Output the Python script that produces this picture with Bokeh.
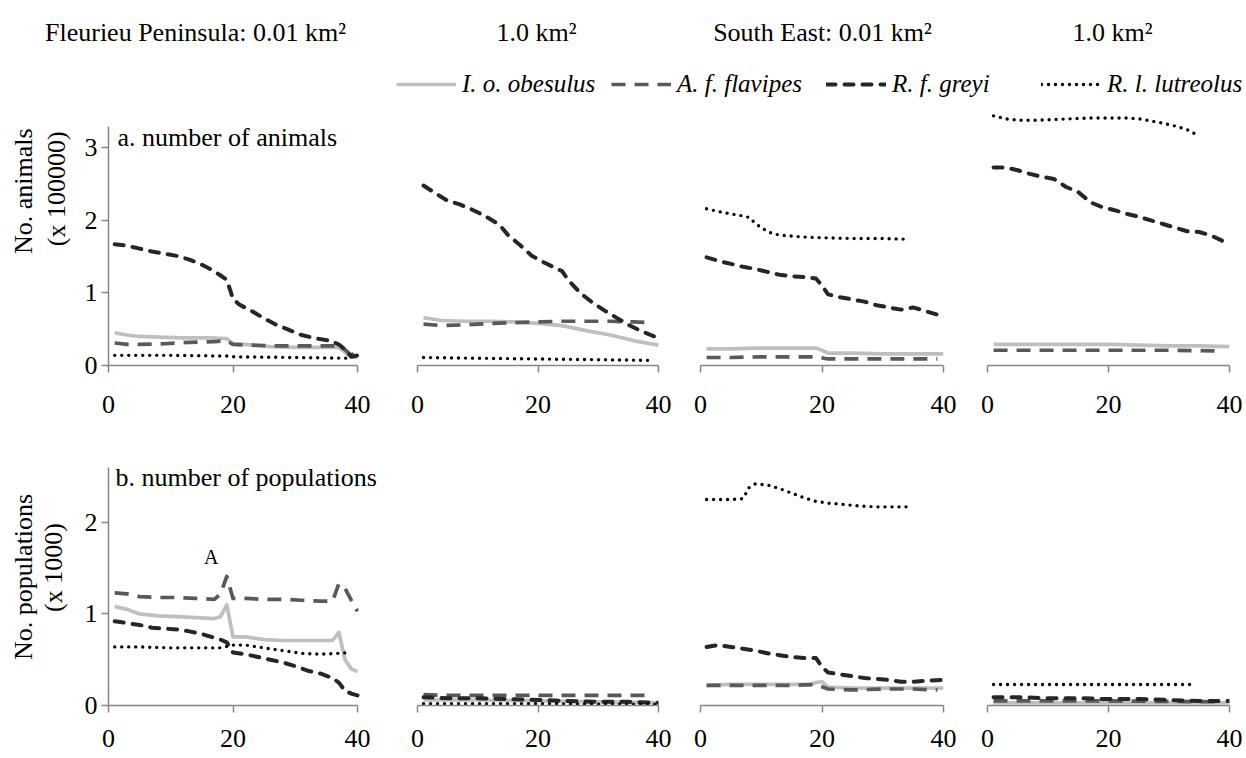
from math import pi

from bokeh.embed import file_html
from bokeh.layouts import column, row
from bokeh.models import FixedTicker, Label, Legend, LegendItem, Range1d
from bokeh.plotting import figure
from bokeh.resources import INLINE

# ---------------------------------------------------------------------------
# Data: years of simulation (x) and model output (y)
# Row a: number of animals (x 100000); row b: number of populations (x 1000)
# ---------------------------------------------------------------------------
SPECIES = ["I. o. obesulus", "A. f. flavipes", "R. f. greyi", "R. l. lutreolus"]
PANEL_TITLES = ["Fleurieu Peninsula: 0.01 km²", "1.0 km²", "South East: 0.01 km²", "1.0 km²"]
X_TICKS = [0, 20, 40]
Y_TICKS_ANIMALS = [0, 1, 2, 3]
Y_TICKS_POPULATIONS = [0, 1, 2]

# Fleurieu Peninsula, 0.01 km2 -- animals
fp_small_animals_obesulus_x = [1, 3, 5, 8, 12, 16, 19, 20, 22, 26, 30, 34, 37, 38, 39, 40]
fp_small_animals_obesulus_y = [0.45, 0.42, 0.40, 0.39, 0.38, 0.38, 0.37, 0.30, 0.29, 0.26, 0.25, 0.25, 0.25, 0.18, 0.12, 0.11]
fp_small_animals_flavipes_x = [1, 3, 5, 9, 13, 17, 19, 20, 23, 27, 31, 35, 37, 38, 39, 40]
fp_small_animals_flavipes_y = [0.31, 0.29, 0.29, 0.30, 0.32, 0.33, 0.34, 0.29, 0.28, 0.27, 0.27, 0.27, 0.27, 0.22, 0.14, 0.21]
fp_small_animals_greyi_x = [1, 3, 5, 7, 9, 11, 13, 15, 17, 18, 19, 20, 21, 23, 25, 27, 29, 31, 33, 35, 36, 37, 38, 39, 40]
fp_small_animals_greyi_y = [1.67, 1.65, 1.61, 1.57, 1.54, 1.51, 1.46, 1.39, 1.30, 1.24, 1.18, 0.92, 0.84, 0.75, 0.65, 0.56, 0.49, 0.42, 0.38, 0.35, 0.33, 0.29, 0.22, 0.12, 0.14]
fp_small_animals_lutreolus_x = [1, 10, 19, 20, 30, 39]
fp_small_animals_lutreolus_y = [0.14, 0.14, 0.13, 0.12, 0.11, 0.10]

# Fleurieu Peninsula, 1.0 km2 -- animals
fp_large_animals_obesulus_x = [1, 4, 8, 12, 16, 20, 24, 28, 32, 36, 40]
fp_large_animals_obesulus_y = [0.66, 0.62, 0.61, 0.61, 0.60, 0.58, 0.55, 0.48, 0.42, 0.34, 0.28]
fp_large_animals_flavipes_x = [1, 4, 8, 12, 16, 20, 24, 28, 32, 36, 39]
fp_large_animals_flavipes_y = [0.57, 0.55, 0.56, 0.58, 0.59, 0.60, 0.61, 0.61, 0.61, 0.60, 0.59]
fp_large_animals_greyi_x = [1, 3, 5, 7, 9, 11, 13, 14, 15, 17, 19, 21, 23, 24, 25, 27, 29, 31, 33, 35, 37, 39, 40]
fp_large_animals_greyi_y = [2.48, 2.37, 2.27, 2.22, 2.15, 2.07, 1.97, 1.90, 1.80, 1.66, 1.51, 1.42, 1.34, 1.30, 1.18, 1.00, 0.87, 0.76, 0.66, 0.56, 0.48, 0.41, 0.38]
fp_large_animals_lutreolus_x = [1, 10, 20, 30, 39]
fp_large_animals_lutreolus_y = [0.11, 0.10, 0.09, 0.08, 0.07]

# South East, 0.01 km2 -- animals
se_small_animals_obesulus_x = [1, 5, 9, 13, 17, 19, 20, 21, 25, 30, 35, 40]
se_small_animals_obesulus_y = [0.23, 0.23, 0.24, 0.24, 0.24, 0.24, 0.21, 0.17, 0.17, 0.16, 0.16, 0.16]
se_small_animals_flavipes_x = [1, 5, 10, 15, 19, 21, 25, 30, 35, 39]
se_small_animals_flavipes_y = [0.11, 0.11, 0.12, 0.12, 0.12, 0.09, 0.09, 0.09, 0.09, 0.09]
se_small_animals_greyi_x = [1, 3, 5, 7, 9, 11, 13, 15, 17, 19, 20, 21, 23, 25, 27, 29, 31, 33, 35, 37, 39, 40]
se_small_animals_greyi_y = [1.49, 1.44, 1.40, 1.36, 1.33, 1.29, 1.25, 1.23, 1.22, 1.20, 1.10, 0.98, 0.94, 0.91, 0.88, 0.83, 0.80, 0.77, 0.80, 0.75, 0.70, 0.67]
se_small_animals_lutreolus_x = [1, 3, 5, 7, 8, 9, 10, 11, 12, 14, 17, 20, 25, 30, 34]
se_small_animals_lutreolus_y = [2.16, 2.12, 2.09, 2.06, 2.04, 1.96, 1.90, 1.85, 1.81, 1.79, 1.77, 1.76, 1.75, 1.75, 1.74]

# South East, 1.0 km2 -- animals
se_large_animals_obesulus_x = [1, 10, 20, 25, 30, 35, 40]
se_large_animals_obesulus_y = [0.29, 0.29, 0.29, 0.28, 0.27, 0.27, 0.26]
se_large_animals_flavipes_x = [1, 10, 20, 30, 39]
se_large_animals_flavipes_y = [0.21, 0.21, 0.21, 0.21, 0.20]
se_large_animals_greyi_x = [1, 3, 5, 7, 9, 11, 13, 15, 17, 19, 21, 23, 25, 27, 29, 31, 33, 35, 37, 39, 40]
se_large_animals_greyi_y = [2.73, 2.73, 2.69, 2.64, 2.60, 2.57, 2.46, 2.39, 2.25, 2.18, 2.14, 2.09, 2.05, 2.00, 1.95, 1.90, 1.85, 1.84, 1.79, 1.71, 1.67]
se_large_animals_lutreolus_x = [1, 3, 5, 8, 11, 14, 17, 20, 23, 25, 27, 29, 31, 33, 35]
se_large_animals_lutreolus_y = [3.44, 3.40, 3.38, 3.38, 3.39, 3.40, 3.41, 3.41, 3.41, 3.40, 3.37, 3.34, 3.30, 3.25, 3.16]

# Fleurieu Peninsula, 0.01 km2 -- populations
fp_small_pops_obesulus_x = [1, 3, 5, 8, 11, 14, 17, 18, 19, 20, 22, 25, 28, 31, 34, 36, 37, 38, 39, 40]
fp_small_pops_obesulus_y = [1.08, 1.05, 1.00, 0.98, 0.97, 0.96, 0.95, 0.97, 1.10, 0.75, 0.75, 0.72, 0.71, 0.71, 0.71, 0.71, 0.80, 0.50, 0.40, 0.37]
fp_small_pops_flavipes_x = [1, 3, 5, 8, 11, 14, 17, 18, 19, 20, 22, 25, 28, 31, 34, 36, 37, 38, 39, 40]
fp_small_pops_flavipes_y = [1.23, 1.22, 1.19, 1.18, 1.18, 1.17, 1.16, 1.22, 1.41, 1.17, 1.17, 1.16, 1.16, 1.15, 1.14, 1.14, 1.33, 1.28, 1.15, 1.03]
fp_small_pops_greyi_x = [1, 3, 5, 7, 9, 11, 13, 15, 17, 18, 19, 20, 22, 24, 26, 28, 30, 32, 34, 36, 37, 38, 39, 40]
fp_small_pops_greyi_y = [0.92, 0.90, 0.88, 0.85, 0.84, 0.83, 0.81, 0.78, 0.74, 0.72, 0.69, 0.58, 0.56, 0.53, 0.50, 0.47, 0.43, 0.38, 0.35, 0.30, 0.25, 0.16, 0.13, 0.11]
fp_small_pops_lutreolus_x = [1, 5, 10, 15, 18, 20, 22, 25, 28, 31, 34, 37, 39]
fp_small_pops_lutreolus_y = [0.64, 0.64, 0.63, 0.63, 0.63, 0.66, 0.66, 0.63, 0.60, 0.57, 0.56, 0.57, 0.58]

# Fleurieu Peninsula, 1.0 km2 -- populations
fp_large_pops_obesulus_x = [1, 10, 20, 30, 40]
fp_large_pops_obesulus_y = [0.06, 0.06, 0.05, 0.04, 0.03]
fp_large_pops_flavipes_x = [1, 5, 10, 20, 30, 39]
fp_large_pops_flavipes_y = [0.12, 0.11, 0.11, 0.11, 0.11, 0.11]
fp_large_pops_greyi_x = [1, 5, 10, 15, 20, 25, 30, 35, 40]
fp_large_pops_greyi_y = [0.09, 0.08, 0.08, 0.07, 0.06, 0.05, 0.04, 0.04, 0.03]
fp_large_pops_lutreolus_x = [1, 20, 40]
fp_large_pops_lutreolus_y = [0.02, 0.02, 0.01]

# South East, 0.01 km2 -- populations
se_small_pops_obesulus_x = [1, 5, 10, 15, 18, 19, 20, 21, 25, 30, 35, 40]
se_small_pops_obesulus_y = [0.22, 0.23, 0.23, 0.23, 0.23, 0.25, 0.26, 0.20, 0.19, 0.19, 0.19, 0.19]
se_small_pops_flavipes_x = [1, 5, 10, 15, 19, 21, 25, 30, 35, 39]
se_small_pops_flavipes_y = [0.22, 0.22, 0.22, 0.22, 0.23, 0.18, 0.17, 0.18, 0.18, 0.17]
se_small_pops_greyi_x = [1, 3, 5, 7, 9, 11, 13, 15, 17, 19, 20, 21, 23, 25, 27, 29, 31, 33, 35, 37, 40]
se_small_pops_greyi_y = [0.64, 0.66, 0.64, 0.62, 0.60, 0.57, 0.55, 0.53, 0.52, 0.52, 0.42, 0.36, 0.34, 0.32, 0.30, 0.29, 0.28, 0.26, 0.26, 0.27, 0.28]
se_small_pops_lutreolus_x = [1, 3, 5, 7, 8, 9, 11, 13, 15, 17, 19, 21, 23, 26, 29, 32, 34]
se_small_pops_lutreolus_y = [2.25, 2.25, 2.25, 2.26, 2.38, 2.42, 2.41, 2.37, 2.32, 2.27, 2.23, 2.21, 2.20, 2.18, 2.17, 2.17, 2.17]

# South East, 1.0 km2 -- populations
se_large_pops_obesulus_x = [1, 20, 40]
se_large_pops_obesulus_y = [0.03, 0.03, 0.03]
se_large_pops_flavipes_x = [1, 20, 39]
se_large_pops_flavipes_y = [0.05, 0.05, 0.04]
se_large_pops_greyi_x = [1, 5, 10, 15, 20, 25, 30, 35, 40]
se_large_pops_greyi_y = [0.09, 0.09, 0.08, 0.08, 0.07, 0.07, 0.06, 0.05, 0.05]
se_large_pops_lutreolus_x = [1, 10, 20, 30, 34]
se_large_pops_lutreolus_y = [0.23, 0.23, 0.23, 0.23, 0.23]

# ---------------------------------------------------------------------------
# Styling
# ---------------------------------------------------------------------------
FONT = "Liberation Serif"
AXIS_GREY = "#868686"
STYLES = [
    dict(line_color="#BFBFBF", line_width=3.7, line_join="round"),
    dict(line_color="#595959", line_width=3.7, line_dash="14 9", line_join="round"),
    dict(line_color="#262626", line_width=4, line_dash="9 9", line_cap="round", line_join="round"),
    dict(line_color="#000000", line_width=3.4, line_dash="0 7", line_cap="round", line_join="round"),
]

YEAR_MAX = 40
LABEL_STRIP_W = 78
# column geometry: (left border, frame width, right border, x range end)
# the first column's frame runs a little past year 40 so its caption has room
COLS = [(30, 279, 0, 279 / 249 * YEAR_MAX), (30, 241, 15, YEAR_MAX),
        (27, 243, 15, YEAR_MAX), (29, 242, 17, YEAR_MAX)]
# row geometry: (top border, frame height, bottom border, y max, axis top, ticks, label standoff)
ROW_ANIMALS = (11, 254, 60, 3.5, 3.3, Y_TICKS_ANIMALS, 23)
ROW_POPS = (42, 238, 53, 2.6, 2.6, Y_TICKS_POPULATIONS, 17)


def style_axis(ax, standoff):
    ax.axis_line_color = AXIS_GREY
    ax.axis_line_width = 1.5
    ax.major_tick_line_color = AXIS_GREY
    ax.major_tick_line_width = 1.5
    ax.major_tick_in = 0
    ax.major_tick_out = 7
    ax.minor_tick_line_color = None
    ax.major_label_standoff = standoff
    ax.major_label_text_font = FONT
    ax.major_label_text_font_size = "26px"
    ax.major_label_text_color = "black"


def make_panel(col, row_geom, series, with_y_axis):
    left, fw, right, x_end = col
    top, fh, bottom, y_max, axis_top, y_ticks, x_standoff = row_geom
    p = figure(width=left + fw + right, height=top + fh + bottom,
               x_range=Range1d(0, x_end), y_range=Range1d(0, y_max),
               y_axis_location="left" if with_y_axis else None,
               output_backend="svg", toolbar_location=None,
               min_border_left=left, min_border_right=right,
               min_border_top=top, min_border_bottom=bottom)
    p.outline_line_color = None
    p.grid.visible = False

    xa = p.xaxis[0]
    xa.ticker = FixedTicker(ticks=X_TICKS)
    xa.bounds = (0, YEAR_MAX)
    style_axis(xa, x_standoff)

    if with_y_axis:
        ya = p.yaxis[0]
        ya.ticker = FixedTicker(ticks=y_ticks)
        ya.bounds = (0, axis_top)
        style_axis(ya, 4)

    for (xs, ys), style in zip(series, STYLES):
        p.line(xs, ys, **style)
    return p


def text_label(p, x, y, text, size="26px", **kw):
    p.add_layout(Label(x=x, y=y, text=text, text_font=FONT, text_font_size=size,
                       text_color="black", **kw))


def make_label_strip(height, lines):
    """Narrow strip left of the first column carrying the two-line y-axis title."""
    s = figure(width=LABEL_STRIP_W, height=height,
               x_range=Range1d(0, LABEL_STRIP_W), y_range=Range1d(height, 0),
               x_axis_type=None, y_axis_type=None, output_backend="svg",
               toolbar_location=None, min_border=0)
    s.outline_line_color = None
    s.grid.visible = False
    for text, cx, cy in lines:
        text_label(s, cx, cy, text, angle=pi / 2, text_align="center", text_baseline="middle")
    return s


animal_series = [
    [(fp_small_animals_obesulus_x, fp_small_animals_obesulus_y), (fp_small_animals_flavipes_x, fp_small_animals_flavipes_y),
     (fp_small_animals_greyi_x, fp_small_animals_greyi_y), (fp_small_animals_lutreolus_x, fp_small_animals_lutreolus_y)],
    [(fp_large_animals_obesulus_x, fp_large_animals_obesulus_y), (fp_large_animals_flavipes_x, fp_large_animals_flavipes_y),
     (fp_large_animals_greyi_x, fp_large_animals_greyi_y), (fp_large_animals_lutreolus_x, fp_large_animals_lutreolus_y)],
    [(se_small_animals_obesulus_x, se_small_animals_obesulus_y), (se_small_animals_flavipes_x, se_small_animals_flavipes_y),
     (se_small_animals_greyi_x, se_small_animals_greyi_y), (se_small_animals_lutreolus_x, se_small_animals_lutreolus_y)],
    [(se_large_animals_obesulus_x, se_large_animals_obesulus_y), (se_large_animals_flavipes_x, se_large_animals_flavipes_y),
     (se_large_animals_greyi_x, se_large_animals_greyi_y), (se_large_animals_lutreolus_x, se_large_animals_lutreolus_y)],
]
pop_series = [
    [(fp_small_pops_obesulus_x, fp_small_pops_obesulus_y), (fp_small_pops_flavipes_x, fp_small_pops_flavipes_y),
     (fp_small_pops_greyi_x, fp_small_pops_greyi_y), (fp_small_pops_lutreolus_x, fp_small_pops_lutreolus_y)],
    [(fp_large_pops_obesulus_x, fp_large_pops_obesulus_y), (fp_large_pops_flavipes_x, fp_large_pops_flavipes_y),
     (fp_large_pops_greyi_x, fp_large_pops_greyi_y), (fp_large_pops_lutreolus_x, fp_large_pops_lutreolus_y)],
    [(se_small_pops_obesulus_x, se_small_pops_obesulus_y), (se_small_pops_flavipes_x, se_small_pops_flavipes_y),
     (se_small_pops_greyi_x, se_small_pops_greyi_y), (se_small_pops_lutreolus_x, se_small_pops_lutreolus_y)],
    [(se_large_pops_obesulus_x, se_large_pops_obesulus_y), (se_large_pops_flavipes_x, se_large_pops_flavipes_y),
     (se_large_pops_greyi_x, se_large_pops_greyi_y), (se_large_pops_lutreolus_x, se_large_pops_lutreolus_y)],
]

top_row = [make_panel(COLS[i], ROW_ANIMALS, animal_series[i], i == 0) for i in range(4)]
bottom_row = [make_panel(COLS[i], ROW_POPS, pop_series[i], i == 0) for i in range(4)]

# panel captions and the annotation inside the first-column panels
pa, pb = top_row[0], bottom_row[0]
text_label(pa, 1.45, 3.14, "a. number of  animals", text_align="left", text_baseline="middle")
text_label(pb, 1.12, 2.49, "b. number of populations", text_align="left", text_baseline="middle")
text_label(pb, 16.5, 1.62, "A", size="20px", text_align="center", text_baseline="middle")

top_h = sum(ROW_ANIMALS[:3])
bottom_h = sum(ROW_POPS[:3])
strip_top = make_label_strip(top_h, [("No. animals", 23, 102), ("(x 100000)", 56, 99)])
strip_bottom = make_label_strip(bottom_h, [("No. populations", 23, 153), ("(x 1000)", 53, 140)])

# header strip with region / grain titles and the shared legend
header = figure(width=1246, height=100, x_range=Range1d(0, 1246), y_range=Range1d(100, 0),
                x_axis_type=None, y_axis_type=None, output_backend="svg",
                toolbar_location=None, min_border=0)
header.outline_line_color = None
header.grid.visible = False
for title, cx in zip(PANEL_TITLES, [195, 536, 822, 1112]):
    text_label(header, cx, 32, title, text_align="center", text_baseline="alphabetic")

items = []
for name, style in zip(SPECIES, STYLES):
    # off-screen stand-in line, only used as the legend swatch
    r = header.line(x=[-200, -100], y=[-50, -50], **style)
    items.append(LegendItem(label=name, renderers=[r]))
legend = Legend(items=items, orientation="horizontal", location=(396, 1),
                glyph_width=60, glyph_height=30, label_width=140, label_height=30,
                label_standoff=6, spacing=9, padding=0, margin=0,
                border_line_color=None, background_fill_alpha=0,
                label_text_font=FONT, label_text_font_style="italic",
                label_text_font_size="25px", label_text_color="black")
header.add_layout(legend)

layout = column(header, row(strip_top, *top_row), row(strip_bottom, *bottom_row))

with open("out.html", "w") as f:
    f.write(file_html(layout, INLINE))
